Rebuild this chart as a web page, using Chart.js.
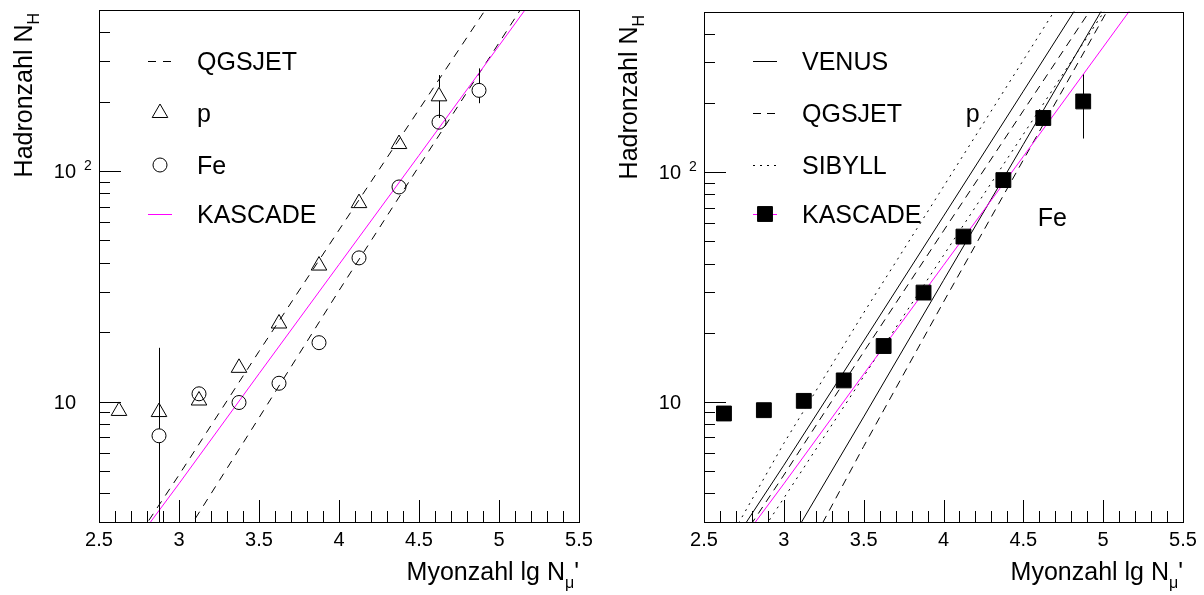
<!DOCTYPE html>
<html>
<head>
<meta charset="utf-8">
<script src="https://cdn.jsdelivr.net/npm/chart.js@4.4.1/dist/chart.umd.min.js"></script>
<style>
  html, body { margin: 0; padding: 0; background: #fff; }
  #wrap { position: relative; width: 1204px; height: 595px; }
  canvas { position: absolute; top: 0; }
</style>
</head>
<body>
<div id="wrap">
  <canvas id="left" width="602" height="595" style="left:0"></canvas>
  <canvas id="right" width="602" height="595" style="left:602px"></canvas>
</div>
<script>
// Bins in lg N_mu'
const binCentres = [2.625, 2.875, 3.125, 3.375, 3.625, 3.875, 4.125, 4.375, 4.625, 4.875];

// linke Grafik: Simulation (QGSJET) fuer p und Fe
const protonNh   = [9.1, 9.0, 10.1, 14.0, 21.8, 38.9, 72.6, 131, 211, null];
const protonLow  = [null, null, null, null, null, null, null, null, 170, null];
const protonHigh = [null, null, null, null, null, null, null, null, 261, null];
const ironNh     = [null, 7.1, 10.8, 9.9, 12.0, 18.0, 42.0, 85.3, 163, 224];
const ironLow    = [null, 1, null, null, null, null, null, null, null, 197];
const ironHigh   = [null, 17.1, null, null, null, null, null, null, null, 279];

// rechte Grafik: KASCADE Messung
const kascadeNh   = [8.9, 9.2, 10.1, 12.4, 17.5, 29.9, 52.4, 92.3, 172, 203];
const kascadeLow  = [null, null, null, null, null, null, null, null, null, 140];
const kascadeHigh = [null, null, null, null, null, null, null, null, null, 266];

const lineX      = [2.5, 3.0, 3.5, 4.0, 4.5, 5.0, 5.5];
const qgsjetP    = [1.44, 4.8, 16.5, 55.5, 185, 615, 2050];
const qgsjetFeL  = [0.68, 2.4, 8.5, 30.3, 105, 360, 1240];
const kascadeFit = [1.5, 4.4, 13.2, 39.3, 117, 350, 1050];
const venusP     = [1.57, 5.3, 18.4, 64.3, 225, 791, 2770];
const venusFe    = [0.57, 2.22, 8.6, 33.8, 132, 519, 2040];
const qgsjetFeR  = [0.32, 1.44, 6.4, 27.2, 113, 468, 1900];
const sibyllP    = [1.61, 6.6, 24.4, 86.5, 307, 1090, 3600];
const sibyllFe   = [1.13, 3.81, 12.9, 43.4, 146, 493, 1660];

// Achsenbeschriftung
const xTicks = [2.5, 3, 3.5, 4, 4.5, 5, 5.5];
const xTickLabels = ['2.5', '3', '3.5', '4', '4.5', '5', '5.5'];
const yTicks = [10, 100];
const yTickLabels = [['10', ''], ['10', '2']];

const FONT = '"Liberation Sans", Arial, Helvetica, sans-serif';

function pts(xv, yv) {
  return xv.map((x, i) => ({ x: x, y: yv[i] })).filter(p => p.y != null);
}

function lineSet(yv, color, dash) {
  return {
    data: pts(lineX, yv),
    showLine: true,
    borderColor: color,
    borderWidth: 1,
    borderDash: dash || [],
    pointRadius: 0,
    fill: false
  };
}

function markerSet(yv, style, radius, fill) {
  return {
    data: pts(binCentres, yv),
    showLine: false,
    pointStyle: style,
    pointRadius: radius,
    pointBorderWidth: 1,
    pointBorderColor: '#000',
    pointBackgroundColor: fill
  };
}

// Legende, Fehlerbalken, Beschriftungen je Grafik
const panels = {
  left: {
    legend: [
      { label: 'QGSJET', line: '#000', dash: [8, 7] },
      { label: 'p', marker: 'triangle', radius: 9, fill: 'rgba(0,0,0,0)' },
      { label: 'Fe', marker: 'circle', radius: 7, fill: 'rgba(0,0,0,0)' },
      { label: 'KASCADE', line: '#ff00ff' }
    ],
    errors: [
      { values: protonNh, low: protonLow, high: protonHigh, gapUp: 9, gapDown: 4.5 },
      { values: ironNh, low: ironLow, high: ironHigh, gapUp: 7, gapDown: 7 }
    ],
    notes: []
  },
  right: {
    legend: [
      { label: 'VENUS', line: '#000', dash: [] },
      { label: 'QGSJET', line: '#000', dash: [8, 6] },
      { label: 'SIBYLL', line: '#000', dash: [2, 5] },
      { label: 'KASCADE', line: '#ff00ff', marker: 'rect', radius: 10.5, fill: '#000' }
    ],
    errors: [
      { values: kascadeNh, low: kascadeLow, high: kascadeHigh, gapUp: 0, gapDown: 0 }
    ],
    notes: [
      { text: 'p', x: 4.14, y: 166 },
      { text: 'Fe', x: 4.59, y: 58 }
    ]
  }
};

function drawSymbol(ctx, item, x, y) {
  if (item.line) {
    ctx.save();
    ctx.strokeStyle = item.line;
    ctx.lineWidth = 1;
    ctx.setLineDash(item.dash || []);
    ctx.beginPath();
    ctx.moveTo(x - 12, y + 0.5);
    ctx.lineTo(x + 12, y + 0.5);
    ctx.stroke();
    ctx.restore();
  }
  if (item.marker) {
    ctx.save();
    ctx.strokeStyle = '#000';
    ctx.fillStyle = item.fill;
    ctx.lineWidth = 1;
    Chart.helpers.drawPoint(ctx, { pointStyle: item.marker, radius: item.radius, rotation: 0, borderWidth: 1 }, x, y);
    ctx.restore();
  }
}

// ROOT-artige Achsen: Rahmen, Ticks nach innen, Titel mit Index
const rootStyle = {
  id: 'rootStyle',
  afterDatasetsDraw(chart) {
    const cfg = panels[chart.canvas.id];
    const ctx = chart.ctx, a = chart.chartArea;
    const xs = chart.scales.x, ys = chart.scales.y;
    ctx.save();
    ctx.beginPath();
    ctx.rect(a.left, a.top, a.right - a.left, a.bottom - a.top);
    ctx.clip();
    ctx.strokeStyle = '#000';
    ctx.lineWidth = 1;
    cfg.errors.forEach(e => {
      e.values.forEach((v, i) => {
        if (v == null || e.low[i] == null) return;
        const px = Math.round(xs.getPixelForValue(binCentres[i])) + 0.5;
        const py = ys.getPixelForValue(v);
        ctx.beginPath();
        ctx.moveTo(px, ys.getPixelForValue(e.high[i]));
        ctx.lineTo(px, py - e.gapUp);
        ctx.moveTo(px, py + e.gapDown);
        ctx.lineTo(px, ys.getPixelForValue(e.low[i]));
        ctx.stroke();
      });
    });
    ctx.restore();
  },
  afterDraw(chart) {
    const cfg = panels[chart.canvas.id];
    const ctx = chart.ctx, a = chart.chartArea;
    const xs = chart.scales.x, ys = chart.scales.y;
    const L = Math.round(a.left), R = Math.round(a.right);
    const T = Math.round(a.top), B = Math.round(a.bottom);

    ctx.save();
    ctx.strokeStyle = '#000';
    ctx.fillStyle = '#000';
    ctx.lineWidth = 1;
    ctx.strokeRect(L + 0.5, T + 0.5, R - L, B - T);

    // x ticks
    ctx.beginPath();
    for (let i = 25; i <= 55; i++) {
      const px = Math.round(xs.getPixelForValue(i / 10)) + 0.5;
      const len = i % 5 === 0 ? 22 : 11;
      ctx.moveTo(px, B);
      ctx.lineTo(px, B - len);
    }
    // y ticks
    [1, 10, 100].forEach(dec => {
      for (let m = 1; m <= 9; m++) {
        const v = m * dec;
        if (v < ys.min || v > ys.max) continue;
        const py = Math.round(ys.getPixelForValue(v)) + 0.5;
        const len = m === 1 ? 22 : 11;
        ctx.moveTo(L, py);
        ctx.lineTo(L + len, py);
      }
    });
    ctx.stroke();

    // tick labels
    ctx.font = '20px ' + FONT;
    ctx.textAlign = 'center';
    ctx.textBaseline = 'alphabetic';
    xTicks.forEach((v, i) => {
      ctx.fillText(xTickLabels[i], xs.getPixelForValue(v), B + 24);
    });
    yTicks.forEach((v, i) => {
      const py = ys.getPixelForValue(v);
      const lab = yTickLabels[i];
      ctx.font = '20px ' + FONT;
      ctx.textAlign = 'right';
      ctx.fillText(lab[0], L - 23, py + 7);
      if (lab[1]) {
        ctx.font = '14px ' + FONT;
        ctx.textAlign = 'left';
        ctx.fillText(lab[1], L - 15, py - 1);
      }
    });

    // x title: Myonzahl lg N_mu'
    ctx.textAlign = 'left';
    ctx.font = '25px ' + FONT;
    const t1 = 'Myonzahl lg N', t3 = "'";
    const w1 = ctx.measureText(t1).width, w3 = ctx.measureText(t3).width;
    ctx.font = '16px ' + FONT;
    const w2 = ctx.measureText('\u03bc').width;
    let x0 = R - (w1 + w2 + w3);
    ctx.font = '25px ' + FONT;
    ctx.fillText(t1, x0, B + 58);
    ctx.font = '16px ' + FONT;
    ctx.fillText('\u03bc', x0 + w1, B + 66);
    ctx.font = '25px ' + FONT;
    ctx.fillText(t3, x0 + w1 + w2, B + 58);

    // y title: Hadronzahl N_H (gedreht)
    ctx.save();
    ctx.translate(L - 67, T + 3);
    ctx.rotate(-Math.PI / 2);
    ctx.font = '25px ' + FONT;
    const h1 = 'Hadronzahl N';
    const hw1 = ctx.measureText(h1).width;
    ctx.font = '16px ' + FONT;
    const hw2 = ctx.measureText('H').width;
    ctx.font = '25px ' + FONT;
    ctx.fillText(h1, -(hw1 + hw2), 0);
    ctx.font = '16px ' + FONT;
    ctx.fillText('H', -hw2, 7);
    ctx.restore();

    // Legende
    const rows = [61, 113, 165, 214];
    cfg.legend.forEach((item, i) => {
      drawSymbol(ctx, item, L + 61, rows[i]);
      ctx.fillStyle = '#000';
      ctx.font = '25px ' + FONT;
      ctx.textAlign = 'left';
      ctx.fillText(item.label, L + 98, rows[i] + 9);
    });

    // p / Fe Beschriftung
    cfg.notes.forEach(n => {
      ctx.font = '25px ' + FONT;
      ctx.textAlign = 'left';
      ctx.fillText(n.text, xs.getPixelForValue(n.x), ys.getPixelForValue(n.y));
    });
    ctx.restore();
  }
};

function makeChart(id, datasets, padLeft, padRight) {
  return new Chart(document.getElementById(id).getContext('2d'), {
    type: 'scatter',
    data: { datasets: datasets },
    options: {
      responsive: false,
      animation: false,
      layout: { padding: { left: padLeft, right: padRight, top: 9, bottom: 73 } },
      scales: {
        x: { type: 'linear', min: 2.5, max: 5.5, display: false },
        y: { type: 'logarithmic', min: 3, max: 500, display: false }
      },
      plugins: {
        legend: { display: false },
        tooltip: { enabled: false }
      }
    },
    plugins: [rootStyle]
  });
}

makeChart('left', [
  markerSet(protonNh, 'triangle', 9, 'rgba(0,0,0,0)'),
  markerSet(ironNh, 'circle', 7, 'rgba(0,0,0,0)'),
  lineSet(kascadeFit, '#ff00ff'),
  lineSet(qgsjetP, '#000', [8, 7]),
  lineSet(qgsjetFeL, '#000', [8, 7])
], 99, 23);

makeChart('right', [
  markerSet(kascadeNh, 'rect', 10.5, '#000'),
  lineSet(kascadeFit, '#ff00ff'),
  lineSet(venusP, '#000'),
  lineSet(venusFe, '#000'),
  lineSet(qgsjetP, '#000', [8, 6]),
  lineSet(qgsjetFeR, '#000', [8, 6]),
  lineSet(sibyllP, '#000', [2, 5]),
  lineSet(sibyllFe, '#000', [2, 5])
], 102, 21);
</script>
</body>
</html>
